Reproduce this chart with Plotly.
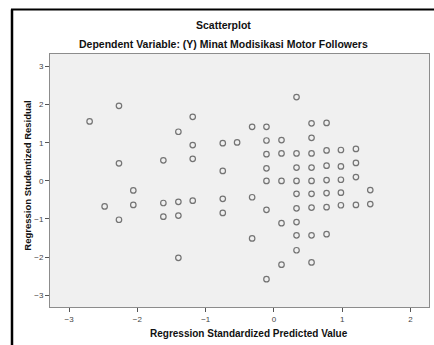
import plotly.graph_objects as go

# Data (standardized predicted value, studentized residual)
pred = [
    -2.70,
    -2.48,
    -2.27, -2.27, -2.27,
    -2.06, -2.06,
    -1.62, -1.62, -1.62,
    -1.40, -1.40, -1.40, -1.40,
    -1.19, -1.19, -1.19, -1.19,
    -0.75, -0.75, -0.75, -0.75,
    -0.54,
    -0.32, -0.32, -0.32,
    -0.11, -0.11, -0.11, -0.11, -0.11, -0.11, -0.11,
    0.11, 0.11, 0.11, 0.11, 0.11,
    0.33, 0.33, 0.33, 0.33, 0.33, 0.33, 0.33, 0.33, 0.33,
    0.55, 0.55, 0.55, 0.55, 0.55, 0.55, 0.55, 0.55, 0.55,
    0.77, 0.77, 0.77, 0.77, 0.77, 0.77, 0.77,
    0.98, 0.98, 0.98, 0.98, 0.98,
    1.20, 1.20, 1.20, 1.20,
    1.41, 1.41,
]
resid = [
    1.56,
    -0.67,
    1.97, 0.46, -1.02,
    -0.25, -0.63,
    0.54, -0.58, -0.94,
    1.29, -0.55, -0.91, -2.02,
    1.68, 0.94, 0.58, -0.52,
    0.99, 0.26, -0.47, -0.84,
    1.01,
    1.42, -0.43, -1.51,
    1.42, 1.06, 0.70, 0.33, 0.00, -0.76, -2.58,
    1.07, 0.72, 0.00, -1.11, -2.20,
    2.20, 0.72, 0.35, 0.00, -0.34, -0.72, -1.08, -1.43, -1.82,
    1.51, 1.13, 0.72, 0.35, 0.00, -0.34, -0.70, -1.43, -2.14,
    1.52, 0.80, 0.40, 0.02, -0.32, -0.69, -1.40,
    0.81, 0.38, 0.03, -0.31, -0.64,
    0.84, 0.47, 0.10, -0.63,
    -0.24, -0.61,
]
x_ticks = [-3, -2, -1, 0, 1, 2]
y_ticks = [-3, -2, -1, 0, 1, 2, 3]

title = "Scatterplot"
subtitle = "Dependent Variable: (Y) Minat Modisikasi Motor Followers"
x_title = "Regression Standardized Predicted Value"
y_title = "Regression Studentized Residual"

W, H = 434, 345
L, R, T, B = 50, 429, 54, 307
FONT = "Arial, Liberation Sans, sans-serif"


def px(xp):
    return (xp - L) / (R - L)


def py(yp):
    return (B - yp) / (B - T)


fig = go.Figure()
fig.add_trace(go.Scatter(
    x=pred, y=resid, mode="markers",
    marker=dict(symbol="circle-open", size=5.5, color="#747474",
                line=dict(width=1.2, color="#747474")),
    hoverinfo="x+y", showlegend=False,
))

axis_common = dict(
    showgrid=False, zeroline=False, showline=True, mirror=True,
    linecolor="#8c8c8c", linewidth=1, ticks="outside", ticklen=4,
    tickcolor="#555555", tickwidth=1,
    tickfont=dict(family=FONT, size=8, color="#444444"),
)

fig.update_layout(
    width=W, height=H,
    margin=dict(l=L, r=W - R, t=T, b=H - B),
    paper_bgcolor="white", plot_bgcolor="#f0f0f0",
    xaxis=dict(range=[-3.28, 2.27], tickvals=x_ticks, **axis_common),
    yaxis=dict(range=[-3.31, 3.33], tickvals=y_ticks, **axis_common),
    font=dict(family=FONT),
    annotations=[
        dict(text=f"<b>{title}</b>", x=px(223), y=py(25.5), xref="paper", yref="paper",
             showarrow=False, xanchor="center", yanchor="middle",
             font=dict(size=10.5, color="#111111", family=FONT)),
        dict(text=f"<b>{subtitle}</b>", x=px(223.5), y=py(44.3), xref="paper", yref="paper",
             showarrow=False, xanchor="center", yanchor="middle",
             font=dict(size=10.5, color="#111111", family=FONT)),
        dict(text=f"<b>{x_title}</b>", x=px(249), y=py(333), xref="paper", yref="paper",
             showarrow=False, xanchor="center", yanchor="middle",
             font=dict(size=10, color="#111111", family=FONT)),
        dict(text=f"<b>{y_title}</b>", x=px(26.7), y=py(176), xref="paper", yref="paper",
             showarrow=False, xanchor="center", yanchor="middle", textangle=-90,
             font=dict(size=9.5, color="#111111", family=FONT)),
    ],
    shapes=[
        dict(type="line", xref="paper", yref="paper", x0=px(12), x1=px(12),
             y0=py(9.5), y1=py(350), line=dict(color="black", width=2.5)),
        dict(type="line", xref="paper", yref="paper", x0=px(11), x1=px(440),
             y0=py(9.5), y1=py(9.5), line=dict(color="black", width=2)),
    ],
)

fig.write_html("out.html", config={"displayModeBar": False},
               post_script="document.body.style.margin='0';")
